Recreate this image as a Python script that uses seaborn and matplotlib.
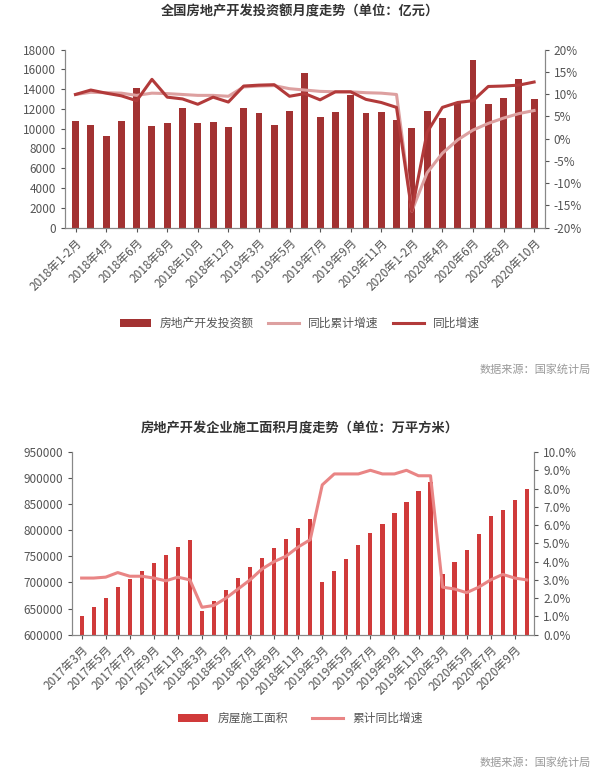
import matplotlib
matplotlib.use("Agg")
import matplotlib.pyplot as plt
import seaborn as sns
import pandas as pd
import numpy as np
from matplotlib.ticker import FuncFormatter

plt.rcParams["font.family"] = "Noto Sans CJK SC"
plt.rcParams["axes.unicode_minus"] = False

# ---- chart 1 data ----
months1 = (["2018年1-2月"] + [f"2018年{m}月" for m in range(3, 13)]
           + ["2019年1-2月"] + [f"2019年{m}月" for m in range(3, 13)]
           + ["2020年1-2月"] + [f"2020年{m}月" for m in range(3, 11)])
invest = [10800, 10400, 9300, 10800, 14100, 10300, 10600, 12100, 10600, 10700, 10200,
          12100, 11600, 10400, 11800, 15600, 11200, 11700, 13400, 11600, 11700, 10900,
          10100, 11800, 11100, 12700, 16900, 12500, 13100, 15000, 13000]
cum_growth = [9.9, 10.4, 10.3, 10.2, 9.7, 10.2, 10.1, 9.9, 9.7, 9.7, 9.5,
              11.6, 11.8, 11.9, 11.2, 10.9, 10.6, 10.5, 10.5, 10.3, 10.2, 9.9,
              -16.3, -7.7, -3.3, -0.3, 1.9, 3.4, 4.6, 5.6, 6.3]
yoy_growth = [9.9, 10.9, 10.2, 9.6, 8.5, 13.3, 9.3, 8.9, 7.7, 9.3, 8.2,
              11.8, 12.0, 12.1, 9.5, 10.1, 8.7, 10.5, 10.5, 8.8, 8.1, 7.0,
              -16.3, 1.4, 7.0, 8.1, 8.5, 11.7, 11.8, 12.0, 12.7]

# ---- chart 2 data ----
months2 = ([f"2017年{m}月" for m in range(3, 13)] + [f"2018年{m}月" for m in range(3, 13)]
           + [f"2019年{m}月" for m in range(3, 13)] + [f"2020年{m}月" for m in range(3, 11)])
area = [636000, 653000, 671000, 691000, 707000, 722000, 737000, 752000, 768000, 782000,
        646000, 664000, 685000, 709000, 729000, 747000, 766000, 784000, 805000, 822000,
        700000, 722000, 745000, 771000, 795000, 813000, 834000, 854000, 875000, 893000,
        717000, 740000, 762000, 792000, 827000, 839000, 859000, 879000]
area_growth = [3.1, 3.1, 3.15, 3.4, 3.2, 3.2, 3.1, 2.95, 3.15, 3.0,
               1.5, 1.6, 2.0, 2.5, 3.0, 3.6, 4.0, 4.3, 4.8, 5.2,
               8.2, 8.8, 8.8, 8.8, 9.0, 8.8, 8.8, 9.0, 8.7, 8.7,
               2.6, 2.5, 2.3, 2.6, 3.0, 3.3, 3.1, 3.0]

TXT = "#555555"
fig = plt.figure(figsize=(6.0, 7.74), dpi=100)

def style(ax, ax2):
    for a in (ax, ax2):
        a.spines["top"].set_visible(False)
        for s in ("left", "right", "bottom"):
            a.spines[s].set_color("#888888")
        a.tick_params(colors=TXT, labelsize=8.5, length=3)
    ax.set_xlabel(""); ax.set_ylabel(""); ax2.set_ylabel(""); ax2.set_xlabel("")

# chart 1
ax1 = fig.add_axes([0.108, 0.706, 0.80, 0.23])
df1 = pd.DataFrame({"m": months1, "v": invest, "c": cum_growth, "y": yoy_growth})
sns.barplot(data=df1, x="m", y="v", color="#A23232", saturation=1, width=0.45, ax=ax1, label="房地产开发投资额")
ax1b = ax1.twinx()
x1 = np.arange(len(months1))
sns.lineplot(x=x1, y=df1["c"], color="#DDA0A0", lw=2.2, ax=ax1b, label="同比累计增速")
sns.lineplot(x=x1, y=df1["y"], color="#B23A3A", lw=2.2, ax=ax1b, label="同比增速")
ax1.set_ylim(0, 18000); ax1.set_yticks(range(0, 18001, 2000))
ax1b.set_ylim(-20, 20); ax1b.set_yticks(range(-20, 21, 5))
ax1b.yaxis.set_major_formatter(FuncFormatter(lambda v, p: f"{v:.0f}%"))
ax1.set_xlim(-0.7, len(months1) - 0.3)
ax1.set_xticks(x1[::2]); ax1.set_xticklabels(months1[::2], rotation=45, ha="right", rotation_mode="anchor")
style(ax1, ax1b)
h1, l1 = ax1.get_legend_handles_labels(); h2, l2 = ax1b.get_legend_handles_labels()
if ax1.get_legend(): ax1.get_legend().remove()
if ax1b.get_legend(): ax1b.get_legend().remove()
fig.legend(h1 + h2, l1 + l2, loc="center", bbox_to_anchor=(0.5, 0.582), ncol=3, frameon=False,
           fontsize=8.5, labelcolor=TXT, handlelength=2.6, columnspacing=1.2)
fig.text(0.5, 0.985, "全国房地产开发投资额月度走势（单位：亿元）", ha="center", va="center", fontsize=9.5, fontweight="bold", color="#333333")
fig.text(0.985, 0.523, "数据来源：国家统计局", ha="right", va="center", fontsize=8, color="#999999")

# chart 2
ax2 = fig.add_axes([0.12, 0.18, 0.77, 0.236])
df2 = pd.DataFrame({"m": months2, "v": area, "g": area_growth})
sns.barplot(data=df2, x="m", y="v", color="#D03A3A", saturation=1, width=0.35, ax=ax2, label="房屋施工面积")
ax2b = ax2.twinx()
x2 = np.arange(len(months2))
sns.lineplot(x=x2, y=df2["g"], color="#E98585", lw=2.2, ax=ax2b, label="累计同比增速")
ax2.set_ylim(600000, 950000); ax2.set_yticks(range(600000, 950001, 50000))
ax2b.set_ylim(0, 10); ax2b.set_yticks(range(0, 11))
ax2b.yaxis.set_major_formatter(FuncFormatter(lambda v, p: f"{v:.1f}%"))
ax2.set_xlim(-0.8, len(months2) - 0.4)
ax2.set_xticks(x2[::2]); ax2.set_xticklabels(months2[::2], rotation=45, ha="right", rotation_mode="anchor")
style(ax2, ax2b)
h1, l1 = ax2.get_legend_handles_labels(); h2, l2 = ax2b.get_legend_handles_labels()
if ax2.get_legend(): ax2.get_legend().remove()
if ax2b.get_legend(): ax2b.get_legend().remove()
fig.legend(h1 + h2, l1 + l2, loc="center", bbox_to_anchor=(0.5, 0.072), ncol=2, frameon=False,
           fontsize=8.5, labelcolor=TXT, handlelength=2.6, columnspacing=2)
fig.text(0.5, 0.447, "房地产开发企业施工面积月度走势（单位：万平方米）", ha="center", va="center", fontsize=9.5, fontweight="bold", color="#333333")
fig.text(0.985, 0.015, "数据来源：国家统计局", ha="right", va="center", fontsize=8, color="#999999")

fig.savefig("out.png", dpi=100, facecolor="white")
